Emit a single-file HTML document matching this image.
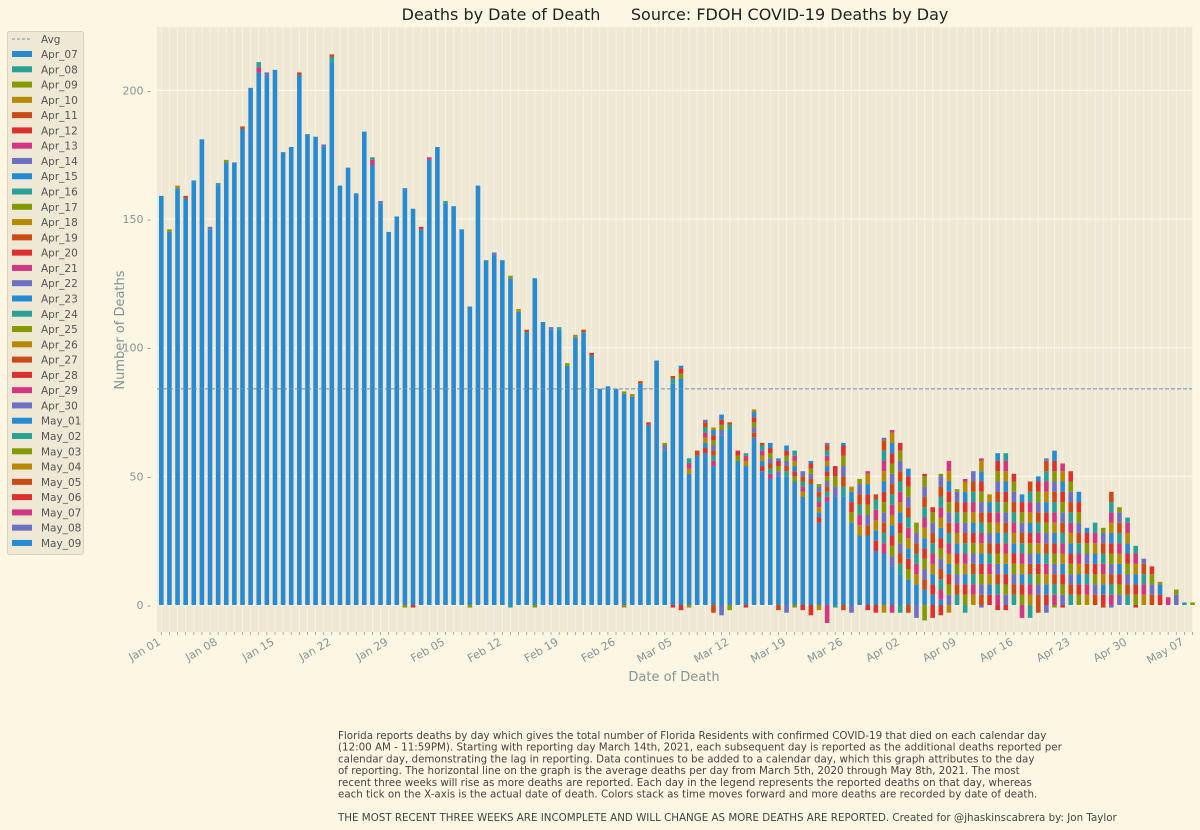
<!DOCTYPE html>
<html><head><meta charset="utf-8"><style>
html,body{margin:0;padding:0;background:#fdf6e3;}
body{width:1200px;height:830px;overflow:hidden;font-family:"DejaVu Sans","Liberation Sans",sans-serif;}
svg{display:block}
</style></head><body>
<svg id="chart" width="1200" height="830" xmlns="http://www.w3.org/2000/svg"></svg>
<script>
const totals=[159,146,163,159,165,181,147,164,173,172,186,201,211,207,208,176,178,207,183,182,179,214,163,170,160,184,174,157,145,151,162,154,147,174,178,157,155,146,116,163,
134,137,134,128,115,107,127,110,108,108,94,105,107,98,84,85,84,83,82,87,71,95,63,89,93,57,60,72,69,74,71,60,59,76,63,63,57,62,60,52,56,47,63,
54,63,46,49,52,43,65,68,63,53,32,51,38,51,56,45,49,52,57,43,59,59,51,43,48,50,57,60,55,52,44,30,32,30,44,38,34,23,18,15,9,3,6,1,1];
const base=[159,145,162,158,165,181,146,163,172,172,185,201,207,205,208,176,178,206,183,182,178,211,163,170,160,184,171,156,145,151,162,154,146,173,178,156,155,146,116,163,
134,136,134,127,114,106,127,110,107,107,93,104,106,97,84,85,84,82,81,86,70,95,60,86,88,51,58,59,54,66,68,56,54,65,52,49,50,50,48,42,47,32,40,
42,42,32,27,27,21,20,15,12,10,8,6,4,2,0,0,0,0,0,0,0,0,0,0,0,0,0,0,0,0,0,0,0,0,0,0,0,0,0,0,0,0,0,0,0];
const negs=[0,0,0,0,0,0,0,0,0,0,0,0,0,0,0,0,0,0,0,0,0,0,0,0,0,0,0,0,0,0,1,1,0,0,0,0,0,0,1,0,
0,0,0,1,0,0,1,0,0,0,0,0,0,0,0,0,0,1,0,0,0,0,0,1,2,1,0,0,3,4,2,0,1,0,0,0,2,3,1,2,4,2,7,
1,2,3,0,2,3,3,3,3,3,5,6,5,4,3,0,3,0,1,0,2,2,0,5,5,3,3,1,1,0,0,0,0,1,1,0,0,1,0,0,0,0,0,0,0];
const avgValue=84;
const yTicks=[0,50,100,150,200];
const xTickLabels=["Jan 01","Jan 08","Jan 15","Jan 22","Jan 29","Feb 05","Feb 12","Feb 19","Feb 26","Mar 05","Mar 12","Mar 19","Mar 26","Apr 02","Apr 09","Apr 16","Apr 23","Apr 30","May 07"];
const legendLabels=["Apr_07","Apr_08","Apr_09","Apr_10","Apr_11","Apr_12","Apr_13","Apr_14","Apr_15","Apr_16","Apr_17","Apr_18","Apr_19","Apr_20","Apr_21","Apr_22","Apr_23","Apr_24","Apr_25","Apr_26","Apr_27","Apr_28","Apr_29","Apr_30","May_01","May_02","May_03","May_04","May_05","May_06","May_07","May_08","May_09"];

const palette=["#268bd2","#2aa198","#859900","#b58900","#cb4b16","#dc322f","#d33682","#6c71c4"];
const NS="http://www.w3.org/2000/svg";
const svg=document.getElementById('chart');
const PL=157,PR=1192,PT=27,PB=632;
const x0=161.3,dx=8.12;
function xs(i){return x0+dx*i;}
function ys(v){return 605-v*2.573;}
function mk(tag,attrs,parent){const e=document.createElementNS(NS,tag);for(const k in attrs)e.setAttribute(k,attrs[k]);(parent||svg).appendChild(e);return e;}

const plot=mk('rect',{x:PL,y:PT,width:PR-PL,height:PB-PT,fill:'#eee8d5'});


for(let i=0;i<totals.length;i++){
  const g=mk('line',{x1:xs(i),x2:xs(i),y1:PT,y2:PB,stroke:'#f7f2e4','stroke-width':1});
  
  
  const t=mk('line',{x1:xs(i),x2:xs(i),y1:PB,y2:PB+3,stroke:'#999','stroke-width':0.8});
  
  
}
yTicks.forEach(v=>{
  const g=mk('line',{x1:PL,x2:PR,y1:ys(v),y2:ys(v),stroke:'#fbf8f0','stroke-width':1});
  
  
  const t=mk('text',{x:PL-6,y:ys(v)+4,'text-anchor':'end','font-size':11,fill:'#839496'});
  t.textContent=v+' -';
  
  
});
const bw=4.6;
for(let i=0;i<totals.length;i++){
  const b=base[i];
  const r=mk('rect',{x:xs(i)-bw/2,y:ys(b),width:bw,height:ys(0)-ys(b),fill:palette[0]});
  
  
  let rem=totals[i]-b, acc=b, k=1+(i%7);
  while(rem>0){
    const h=Math.min(rem,i>82?4:2);
    const s=mk('rect',{x:xs(i)-bw/2,y:ys(acc+h),width:bw,height:ys(acc)-ys(acc+h),fill:palette[k%8]});
    
    
    acc+=h;rem-=h;k+=3;
  }
  if(negs[i]>0){
    const n=mk('rect',{x:xs(i)-bw/2,y:ys(0),width:bw,height:ys(-negs[i])-ys(0),fill:palette[(i*3)%8===0?5:(i*3)%8]});
    
    
  }
}
const avg=mk('line',{x1:PL,x2:PR,y1:ys(avgValue),y2:ys(avgValue),stroke:'#6c8ebf','stroke-width':1,'stroke-dasharray':'4,2'});


xTickLabels.forEach((lab,j)=>{
  const x=xs(j*7);
  const t=mk('text',{x:x,y:PB+12,'text-anchor':'end','font-size':11,fill:'#839496',transform:`rotate(-30 ${x} ${PB+12})`});
  t.textContent=lab;
  
  
});
let t=mk('text',{x:675,y:20,'text-anchor':'middle','font-size':16,fill:'#222'});
t.textContent='Deaths by Date of Death\u00a0\u00a0\u00a0\u00a0\u00a0\u00a0Source: FDOH COVID-19 Deaths by Day';


t=mk('text',{x:674,y:681,'text-anchor':'middle','font-size':13,fill:'#839496'});
t.textContent='Date of Death';


t=mk('text',{x:124,y:330,'text-anchor':'middle','font-size':13,fill:'#839496',transform:'rotate(-90 124 330)'});
t.textContent='Number of Deaths';


const lg=mk('g',{});


mk('rect',{x:7.5,y:31.5,width:76,height:523,rx:2,fill:'#eee8d5',stroke:'#d9d2bf'},lg);
const la=mk('line',{x1:12,x2:32,y1:39,y2:39,stroke:'#6c8ebf','stroke-dasharray':'3,2'},lg);


let lt=mk('text',{x:41,y:43,'font-size':10.5,fill:'#555'},lg);lt.textContent='Avg';


legendLabels.forEach((lab,j)=>{
  const y=54+j*15.28;
  const sw=mk('rect',{x:12,y:y-3,width:20,height:6,fill:palette[j%8]},lg);
  
  
  const tx=mk('text',{x:41,y:y+4,'font-size':10.5,fill:'#555'},lg);
  tx.textContent=lab;
  
  
});
const lines=["Florida reports deaths by day which gives the total number of Florida Residents with confirmed COVID-19 that died on each calendar day",
"(12:00 AM - 11:59PM). Starting with reporting day March 14th, 2021, each subsequent day is reported as the additional deaths reported per",
"calendar day, demonstrating the lag in reporting. Data continues to be added to a calendar day, which this graph attributes to the day",
"of reporting. The horizontal line on the graph is the average deaths per day from March 5th, 2020 through May 8th, 2021. The most",
"recent three weeks will rise as more deaths are reported. Each day in the legend represents the reported deaths on that day, whereas",
"each tick on the X-axis is the actual date of death. Colors stack as time moves forward and more deaths are recorded by date of death.",
"",
"THE MOST RECENT THREE WEEKS ARE INCOMPLETE AND WILL CHANGE AS MORE DEATHS ARE REPORTED. Created for @jhaskinscabrera by: Jon Taylor"];
const ft=mk('g',{});


lines.forEach((l,j)=>{const e=mk('text',{x:338,y:739+j*11.7,'font-size':10.3,fill:'#444'},ft);e.textContent=l;});
</script>
</body></html>
